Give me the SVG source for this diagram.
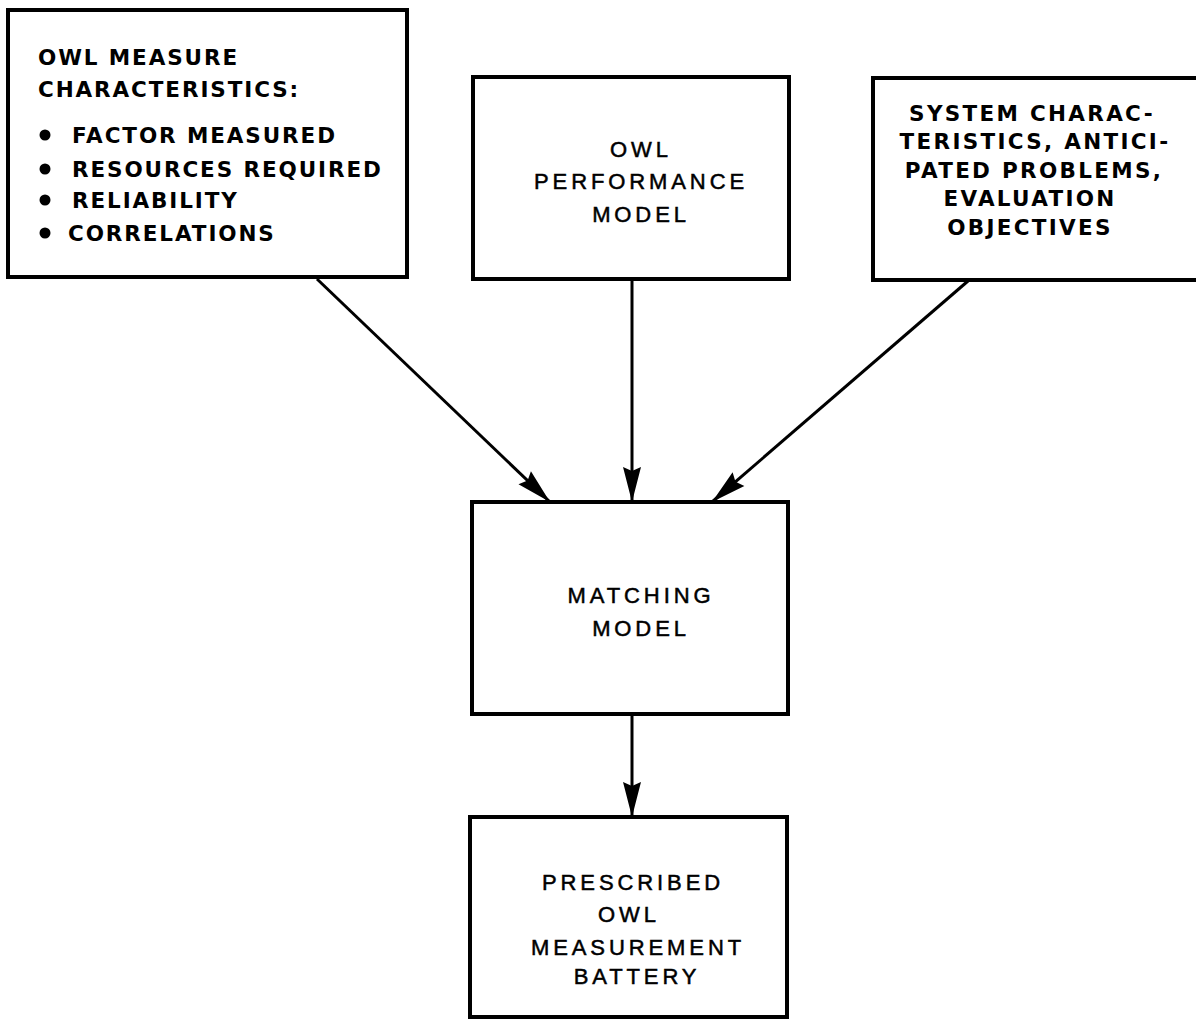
<svg xmlns="http://www.w3.org/2000/svg" width="1196" height="1021" viewBox="0 0 1196 1021">
<style>
.box{fill:#fff;stroke:#000;stroke-width:4}
.t{font-size:22px;fill:#000}
.b{font-family:"DejaVu Sans","Liberation Sans",sans-serif;font-weight:bold;font-size:21.5px;letter-spacing:1.9px}
.r{font-family:"Liberation Sans",Arial,sans-serif;letter-spacing:3.9px;text-anchor:middle;stroke:#000;stroke-width:0.5}
.c{font-family:"DejaVu Sans","Liberation Sans",sans-serif;font-weight:bold;font-size:21.5px;letter-spacing:2.3px;text-anchor:middle}
.conn{stroke:#000;stroke-width:3;fill:none;marker-end:url(#ah)}
</style>
<defs>
<marker id="ah" markerUnits="userSpaceOnUse" markerWidth="40" markerHeight="22" viewBox="-36 -11 38 22" refX="0" refY="0" orient="auto">
<path d="M0,0 L-35,-9 L-31,0 L-35,9 Z" fill="#000"/>
</marker>
</defs>
<rect width="1196" height="1021" fill="#fff"/>
<g id="connectors">
<path class="conn" d="M317,279 L550,502"/>
<path class="conn" d="M632,279 L632,502"/>
<path class="conn" d="M968,281 L712,502"/>
<path class="conn" d="M632,714 L632,817"/>
</g>
<g id="owl-measure-characteristics">
<rect class="box" x="8" y="10" width="399" height="267"/>
<text class="t b" x="38" y="65">OWL MEASURE</text>
<text class="t b" x="38" y="97">CHARACTERISTICS:</text>
<circle cx="45" cy="135" r="5.5"/>
<text class="t b" x="72" y="143">FACTOR MEASURED</text>
<circle cx="45" cy="169" r="5.5"/>
<text class="t b" x="72" y="177">RESOURCES REQUIRED</text>
<circle cx="45" cy="200" r="5.5"/>
<text class="t b" x="72" y="208">RELIABILITY</text>
<circle cx="45" cy="233" r="5.5"/>
<text class="t b" x="68" y="241">CORRELATIONS</text>
</g>
<g id="owl-performance-model">
<rect class="box" x="473" y="77" width="316" height="202"/>
<text class="t r" x="641" y="157">OWL</text>
<text class="t r" x="641" y="189">PERFORMANCE</text>
<text class="t r" x="641" y="222">MODEL</text>
</g>
<g id="system-characteristics">
<rect class="box" x="873" y="78" width="330" height="202"/>
<text class="t c" x="1032" y="121">SYSTEM CHARAC-</text>
<text class="t c" x="1035" y="149">TERISTICS, ANTICI-</text>
<text class="t c" x="1034" y="178">PATED PROBLEMS,</text>
<text class="t c" x="1030" y="206">EVALUATION</text>
<text class="t c" x="1030" y="235">OBJECTIVES</text>
</g>
<g id="matching-model">
<rect class="box" x="472" y="502" width="316" height="212"/>
<text class="t r" x="641" y="603">MATCHING</text>
<text class="t r" x="641" y="636">MODEL</text>
</g>
<g id="prescribed-battery">
<rect class="box" x="470" y="817" width="317" height="200"/>
<text class="t r" x="633" y="890">PRESCRIBED</text>
<text class="t r" x="629" y="922">OWL</text>
<text class="t r" x="638" y="955">MEASUREMENT</text>
<text class="t r" x="637" y="984">BATTERY</text>
</g>
</svg>
